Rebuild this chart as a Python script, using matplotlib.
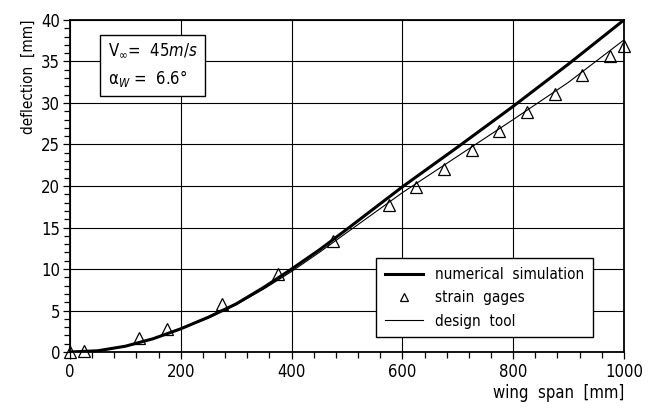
import matplotlib
matplotlib.use("Agg")
import matplotlib.pyplot as plt
from matplotlib.ticker import MultipleLocator

# strain gage measurements
gage_x = [0, 25, 125, 175, 275, 375, 475, 575, 625, 675, 725, 775, 825, 875, 925, 975, 1000]
gage_y = [0.0, 0.1, 1.7, 2.8, 5.8, 9.4, 13.4, 17.7, 19.9, 22.0, 24.3, 26.6, 28.9, 31.1, 33.4, 35.7, 36.9]

# numerical simulation curve
sim_x = [0, 50, 100, 150, 200, 250, 300, 350, 400, 450, 500, 600, 700, 800, 900, 1000]
sim_y = [0.0, 0.15, 0.7, 1.6, 2.8, 4.2, 5.8, 7.8, 10.0, 12.3, 14.8, 19.9, 24.7, 29.6, 34.7, 40.0]

# design tool curve
tool_x = [0, 50, 100, 150, 200, 250, 300, 350, 400, 450, 500, 600, 700, 800, 900, 1000]
tool_y = [0.0, 0.15, 0.7, 1.6, 2.8, 4.1, 5.7, 7.6, 9.7, 12.0, 14.4, 19.2, 23.6, 28.0, 32.5, 37.6]

plt.rcParams.update({
    "font.family": ["DejaVu Sans"],
    "font.stretch": "condensed",
    "font.size": 12,
    "mathtext.fontset": "custom",
    "mathtext.rm": "DejaVu Sans:stretch=condensed",
    "mathtext.it": "DejaVu Sans:italic:stretch=condensed",
    "axes.linewidth": 1.3,
})

fig = plt.figure(figsize=(6.52, 4.12), dpi=100)
ax = fig.add_axes([0.1074, 0.1456, 0.8496, 0.8059])

ax.plot(sim_x, sim_y, color="black", lw=2.2, label="numerical  simulation", zorder=3)
ax.plot(gage_x, gage_y, ls="none", marker="^", ms=9, mfc="none", mec="black",
        mew=0.9, label="strain  gages", zorder=4, clip_on=False)
ax.plot(tool_x, tool_y, color="black", lw=0.8, label="design  tool", zorder=3)

ax.set_xlim(0, 1000)
ax.set_ylim(0, 40)
ax.xaxis.set_major_locator(MultipleLocator(200))
ax.xaxis.set_minor_locator(MultipleLocator(40))
ax.yaxis.set_major_locator(MultipleLocator(5))
ax.yaxis.set_minor_locator(MultipleLocator(1))
ax.tick_params(which="both", direction="out", color="black", width=0.9)
ax.tick_params(which="major", length=5, labelsize=12)
ax.tick_params(axis="y", which="major", pad=2)
ax.tick_params(axis="x", which="major", pad=3)
ax.tick_params(which="minor", length=4)
ax.grid(True, which="major", color="black", lw=0.8)
ax.set_axisbelow(True)

ax.set_xlabel("wing  span  [mm]", loc="right", labelpad=2, fontsize=12)
ax.set_ylabel("deflection  [mm]", loc="top", labelpad=4, fontsize=11)

ax.text(0.068, 0.935, "V$_{\\infty}$=  45$\\mathit{m/s}$\n\u03b1$_{\\mathit{W}}$ =  6.6\u00b0",
        transform=ax.transAxes, ha="left", va="top", fontsize=12, linespacing=1.5,
        bbox=dict(boxstyle="square,pad=0.45", fc="white", ec="black", lw=1.0), zorder=5)

leg = ax.legend(loc="lower right", bbox_to_anchor=(0.944, 0.045), borderaxespad=0,
                fancybox=False, framealpha=1, edgecolor="black", fontsize=11,
                handlelength=2.5, borderpad=0.55, labelspacing=0.55, markerscale=0.7)
leg.get_frame().set_linewidth(1.0)

fig.savefig("out.png", dpi=100)
